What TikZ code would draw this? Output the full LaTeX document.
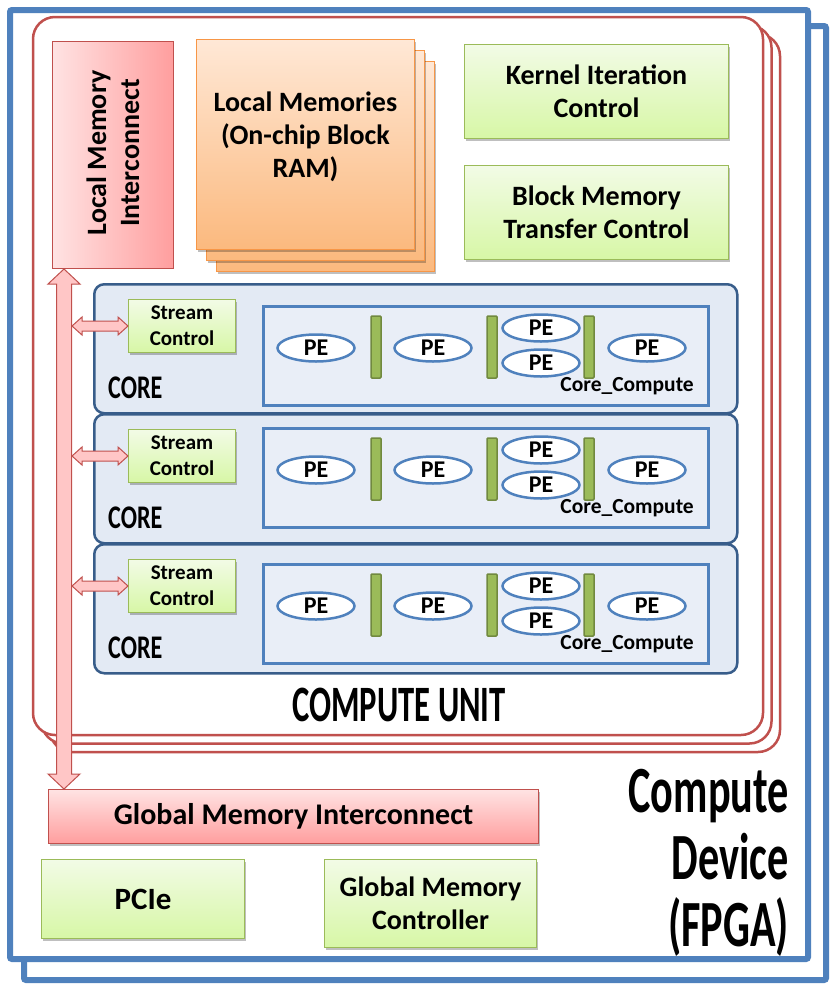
\documentclass[tikz,border=0pt]{standalone}
\usepackage{fontspec}
\setmainfont{Carlito}
\newfontfamily\agency[FakeStretch=0.64]{Carlito}
\newfontfamily\agencywide[FakeStretch=0.73]{Carlito}
\usetikzlibrary{positioning,calc,shadows,shapes.geometric}

\definecolor{fpgablue}{HTML}{4F81BD}
\definecolor{cured}{HTML}{C0504D}
\definecolor{coreline}{HTML}{385D8A}
\definecolor{corefill}{HTML}{E3EAF4}
\definecolor{ccfill}{HTML}{E9EEF7}
\definecolor{ctlline}{HTML}{9BBB59}
\definecolor{ctltop}{HTML}{F2FBE6}
\definecolor{ctlbot}{HTML}{D7F7A6}
\definecolor{memline}{HTML}{F79646}
\definecolor{memtop}{HTML}{FFE8D6}
\definecolor{membot}{HTML}{FBB97E}
\definecolor{icnlight}{HTML}{FFE3E3}
\definecolor{icndark}{HTML}{FF9E9E}
\definecolor{icnmid}{HTML}{FFC6C6}
\definecolor{barline}{HTML}{71893F}

\tikzset{
  boxshadow/.style={drop shadow={shadow xshift=1.5pt,shadow yshift=-2pt,opacity=.25,fill=black}},
  box/.style={anchor=north west, inner sep=0pt, align=center, font=\bfseries\fontsize{28}{33}\selectfont},
  ctl/.style={box, draw=ctlline, line width=1pt, top color=ctltop, bottom color=ctlbot, boxshadow},
  mem/.style={box, draw=memline, line width=1pt, top color=memtop, bottom color=membot, boxshadow},
  icn/.style={box, draw=cured, line width=1pt},
  stream/.style={ctl, font=\bfseries\fontsize{21}{26}\selectfont},
  core/.style={anchor=north west, draw=coreline, fill=corefill, line width=2.5pt, rounded corners=10pt, inner sep=0pt},
  cc/.style={anchor=north west, draw=fpgablue, fill=ccfill, line width=2.5pt, inner sep=0pt},
  pe/.style={ellipse, draw=fpgablue, fill=white, line width=2.5pt, minimum width=77pt, minimum height=27pt, inner sep=0pt, font=\bfseries\fontsize{24}{24}\selectfont},
  pebar/.style={draw=barline, fill=ctlline, line width=1.5pt, minimum width=10pt, minimum height=62pt, inner sep=0pt, rounded corners=1pt},
  cclbl/.style={inner sep=0pt, anchor=base east, font=\bfseries\fontsize{21.5}{21.5}\selectfont},
  bigtext/.style={inner sep=0pt, font=\agency\bfseries\fontsize{#1}{#1}\selectfont},
  fpgaframe/.style={draw=fpgablue, line width=6pt, fill=white, rounded corners=2pt},
  cuframe/.style={draw=cured, line width=2.5pt, fill=white, rounded corners=22pt},
  blockarrow/.style={draw=cured, fill=icnmid, line width=1pt, line join=miter},
}

% block arrows with two heads
\newcommand{\vblockarrow}[2]{%
  \draw[blockarrow] (#1) -- ++(16,15) -- ++(-8.5,0) -- ($(#2)+(7.5,-15)$) -- ++(8.5,0) -- (#2)
    -- ++(-16,-15) -- ++(8.5,0) -- ($(#1)+(-7.5,15)$) -- ++(-8.5,0) -- cycle;}
\newcommand{\hblockarrow}[2]{%
  \draw[blockarrow] (#1) -- ++(10,-9) -- ++(0,4) -- ($(#2)+(-10,-5)$) -- ++(0,-4) -- (#2)
    -- ++(-10,9) -- ++(0,-4) -- ($(#1)+(10,5)$) -- ++(0,4) -- cycle;}

\begin{document}
\begin{tikzpicture}[x=1pt,y=-1pt]
\useasboundingbox (0,0) rectangle (831,986);

% compute device
\draw[fpgaframe] (24,26) rectangle (826,980);
\draw[fpgaframe] (10,10) rectangle (808,959);

% compute unit
\foreach \d in {17,8.5,0}
  \draw[cuframe] (33+\d,17+\d) rectangle (763+\d,735+\d);

\node[icn, left color=icnlight, right color=icndark, minimum width=121pt, minimum height=227pt] (lmi) at (52,41) {};
\node[rotate=90, align=center, inner sep=0pt, font=\bfseries\fontsize{28}{33}\selectfont] (lmitext) at ([yshift=2pt]lmi.center) {Local Memory\\Interconnect};

\node[mem, minimum width=218pt, minimum height=210pt] (lm3) at (216,61) {};
\node[mem, minimum width=218pt, minimum height=210pt] (lm2) at (206,50) {};
\node[mem, minimum width=218pt, minimum height=210pt] (lm1) at (196,39) {Local Memories\\(On-chip Block\\RAM)\\[-13pt]};

\node[ctl, minimum width=264pt, minimum height=94pt] (kic) at (464,44) {Kernel Iteration\\Control};
\node[ctl, minimum width=264pt, minimum height=94pt] (bmtc) at (464,165) {Block Memory\\Transfer Control};

\coordinate (busx) at (64,0);
\coordinate (busedge) at (72,0);

\foreach \n/\y/\p in {1/0/0,2/130/122,3/260/258} {
  \node[core, minimum width=643pt, minimum height=129pt] (core\n) at (93,283+\y) {};
  \node[stream, minimum width=107pt, minimum height=53pt] (sc\n) at (128,299+\y) {Stream\\Control};
  \node[inner sep=0pt, font=\agencywide\bfseries\fontsize{33}{33}\selectfont, anchor=base west] (corelbl\n) at (108,398+\y) {CORE};
  \node[cc, minimum width=445pt, minimum height=99pt] (cc\n) at (262,305+\p) {};
  \node[pe] (pea\n) at (316,348+\p) {PE};
  \node[pebar] (bara\n) at (376,347+\p) {};
  \node[pe] (peb\n) at (433,348+\p) {PE};
  \node[pebar] (barb\n) at (492,347+\p) {};
  \node[pe] (pec\n) at (541,328+\p) {PE};
  \node[pe] (ped\n) at (541,363+\p) {PE};
  \node[pebar] (barc\n) at (589,347+\p) {};
  \node[pe] (pee\n) at (647,348+\p) {PE};
  \node[cclbl] (cclbl\n) at (694,391+\p) {Core\_Compute};
  \coordinate (bus\n) at (sc\n.west -| busedge);
  \hblockarrow{bus\n}{sc\n.west}
}

\node[bigtext=51, anchor=base] (culbl) at (399,721) {COMPUTE UNIT};

% global side
\node[icn, top color=icnlight, bottom color=icndark, minimum width=490pt, minimum height=54pt, boxshadow,
      font=\bfseries\fontsize{30}{33}\selectfont] (gmi) at (48,789) {Global Memory Interconnect};
\node[ctl, minimum width=203pt, minimum height=79pt, font=\bfseries\fontsize{31}{33}\selectfont] (pcie) at (41,859) {PCIe};
\node[ctl, minimum width=212pt, minimum height=88pt] (gmc) at (324,859) {Global Memory\\Controller};

\coordinate (bustop) at (lmi.south -| busx);
\coordinate (busbot) at (gmi.north -| busx);
\vblockarrow{bustop}{busbot}

\node[align=right, anchor=north east, inner sep=0pt, font=\agency\bfseries\fontsize{66}{67}\selectfont] (devlbl) at (789,769) {Compute\\Device\\(FPGA)};
\end{tikzpicture}
\end{document}
